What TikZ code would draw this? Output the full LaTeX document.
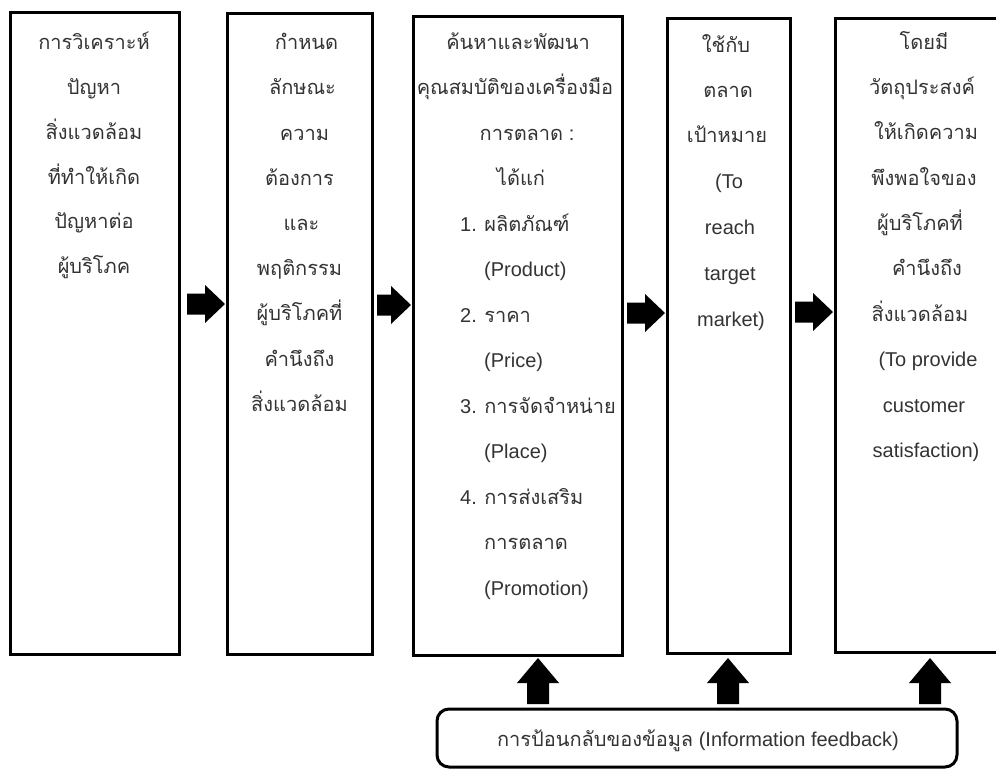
\documentclass[tikz,border=0pt]{standalone}
\usepackage{fontspec}
\setmainfont{Liberation Sans}
\newfontfamily\thaifont[Script=Thai]{Loma}
\newcommand\tht[1]{{\thaifont #1}}
\newcommand\rarrow[3]{\pgfmathsetmacro\hbx{#2-20}%
  \fill[black] (#1,#3-10.5) -- (\hbx,#3-10.5) -- (\hbx,#3-19) -- (#2,#3) -- (\hbx,#3+19) -- (\hbx,#3+10.5) -- (#1,#3+10.5) -- cycle;}
\newcommand\uarrow[3]{\pgfmathsetmacro\hby{#2+25}%
  \fill[black] (#1-11,#3) -- (#1-11,\hby) -- (#1-21,\hby) -- (#1,#2) -- (#1+21,\hby) -- (#1+11,\hby) -- (#1+11,#3) -- cycle;}
\begin{document}
\begin{tikzpicture}[x=1pt,y=-1pt,
  stage/.style={draw=black, line width=3pt, rectangle, inner sep=0pt},
  ln/.style={anchor=mid, inner sep=0pt, yshift=-5pt, font=\fontsize{20}{24}\selectfont, text=black!80},
  lnw/.style={ln, anchor=mid west}]
\useasboundingbox (0,0) rectangle (996,769);
\fill[white] (0,0) rectangle (996,769);
% boxes
\node[stage, minimum width=169, minimum height=642] (b1) at (94.5,333) {};
\node[stage, minimum width=145, minimum height=641] (b2) at (299.5,333.5) {};
\node[stage, minimum width=209, minimum height=639] (b3) at (517.5,335.5) {};
\node[stage, minimum width=123, minimum height=635] (b4) at (728.5,335.5) {};
\node[stage, minimum width=180, minimum height=634] (b5) at (925,335) {};
\node[stage, rounded corners=12pt, minimum width=520, minimum height=58] (fb) at (697,738) {};
\node[ln] (fbt) at (698,739) {\tht{การป้อนกลับของข้อมูล} (Information feedback)};
% box 1
\foreach \t [count=\i] in {การวิเคราะห์,ปัญหา,สิ่งแวดล้อม,ที่ทำให้เกิด,ปัญหาต่อ,ผู้บริโภค}
  \node[ln] (p1-\i) at (94,{42+44.8*(\i-1)}) {\tht{\t}};
% box 2
\foreach \t/\dx [count=\i] in {กำหนด/7,ลักษณะ/3,ความ/5,ต้องการ/0,และ/2,พฤติกรรม/0,ผู้บริโภคที่/0,คำนึงถึง/0,สิ่งแวดล้อม/0}
  \node[ln] (p2-\i) at ({299.5+\dx},{42+45.2*(\i-1)}) {\tht{\t}};
% box 3
\node[ln] (p3-1) at (518,42) {\tht{ค้นหาและพัฒนา}};
\node[ln] (p3-2) at (515,87) {\tht{คุณสมบัติของเครื่องมือ}};
\node[ln] (p3-3) at (527,133) {\tht{การตลาด} :};
\node[ln] (p3-4) at (521,178) {\tht{ได้แก่}};
\node[lnw] (p3-5) at (460,224) {1. \tht{ผลิตภัณฑ์}};
\node[lnw] (p3-6) at (484,269) {(Product)};
\node[lnw] (p3-7) at (460,315) {2. \tht{ราคา}};
\node[lnw] (p3-8) at (484,360) {(Price)};
\node[lnw] (p3-9) at (460,406) {3. \tht{การจัดจำหน่าย}};
\node[lnw] (p3-10) at (484,451) {(Place)};
\node[lnw] (p3-11) at (460,497) {4. \tht{การส่งเสริม}};
\node[lnw] (p3-12) at (484,542) {\tht{การตลาด}};
\node[lnw] (p3-13) at (484,588) {(Promotion)};
% box 4
\node[ln] (p4-1) at (726,45) {\tht{ใช้กับ}};
\node[ln] (p4-2) at (728,90) {\tht{ตลาด}};
\node[ln] (p4-3) at (727,135) {\tht{เป้าหมาย}};
\node[ln] (p4-4) at (729,181) {(To};
\node[ln] (p4-5) at (730,227) {reach};
\node[ln] (p4-6) at (730,273) {target};
\node[ln] (p4-7) at (731,319) {market)};
% box 5
\node[ln] (p5-1) at (924,42) {\tht{โดยมี}};
\node[ln] (p5-2) at (922,87) {\tht{วัตถุประสงค์}};
\node[ln] (p5-3) at (926,132) {\tht{ให้เกิดความ}};
\node[ln] (p5-4) at (924,178) {\tht{พึงพอใจของ}};
\node[ln] (p5-5) at (920,223) {\tht{ผู้บริโภคที่}};
\node[ln] (p5-6) at (927,268) {\tht{คำนึงถึง}};
\node[ln] (p5-7) at (920,314) {\tht{สิ่งแวดล้อม}};
\node[ln] (p5-8) at (928,359) {(To provide};
\node[ln] (p5-9) at (924,405) {customer};
\node[ln] (p5-10) at (926,450) {satisfaction)};
% right block arrows
\rarrow{187}{225}{304}
\rarrow{377}{411}{305}
\rarrow{627}{665}{313}
\rarrow{795}{833}{312}
% up block arrows
\uarrow{538}{658}{704}
\uarrow{728}{658}{704}
\uarrow{930}{658}{704}
\end{tikzpicture}
\end{document}
